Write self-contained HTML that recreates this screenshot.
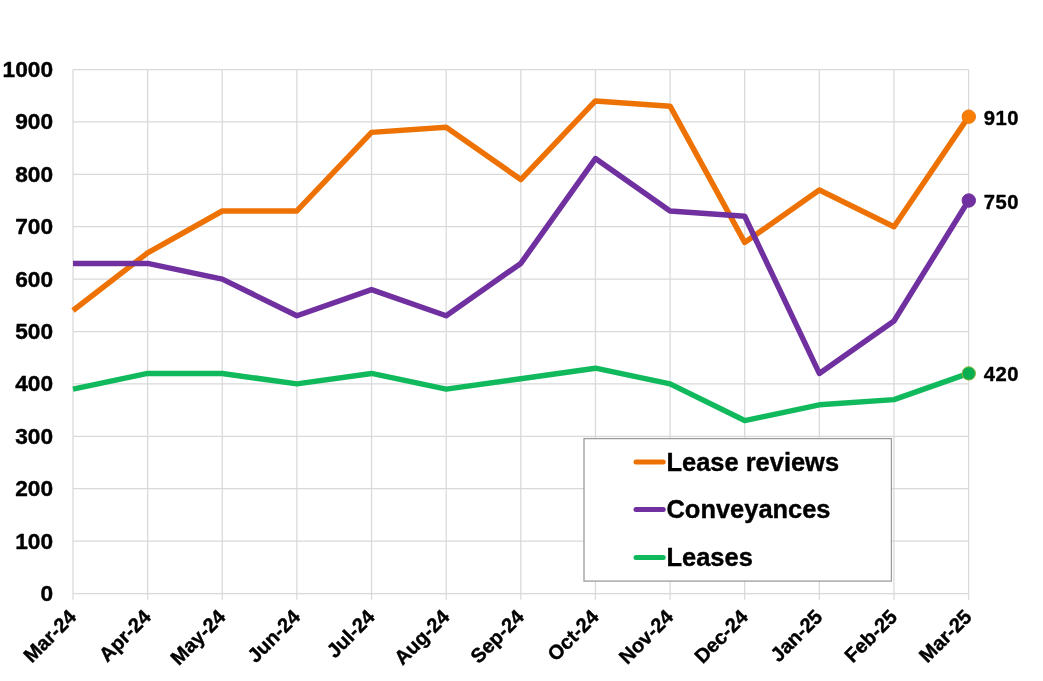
<!DOCTYPE html>
<html lang="en"><head><meta charset="utf-8"><title>Chart</title>
<style>html,body{margin:0;padding:0;background:#fff}svg{display:block}text{font-family:"Liberation Sans",Arial,sans-serif;font-weight:bold;fill:#000;stroke:#000;stroke-width:0.4px;stroke-linejoin:round}</style></head><body>
<svg width="1043" height="681" viewBox="0 0 1043 681">
<rect width="1043" height="681" fill="#fff"/>
<path d="M73.00 69.50H968.60M73.00 121.90H968.60M73.00 174.30H968.60M73.00 226.70H968.60M73.00 279.10H968.60M73.00 331.50H968.60M73.00 383.90H968.60M73.00 436.30H968.60M73.00 488.70H968.60M73.00 541.10H968.60M73.00 593.50H968.60M73.00 69.50V599.70M147.63 69.50V599.70M222.27 69.50V599.70M296.90 69.50V599.70M371.53 69.50V599.70M446.17 69.50V599.70M520.80 69.50V599.70M595.43 69.50V599.70M670.07 69.50V599.70M744.70 69.50V599.70M819.33 69.50V599.70M893.97 69.50V599.70M968.60 69.50V599.70" fill="none" stroke="#D9D9D9" stroke-width="1.25"/>
<text x="53.1" y="77.05" font-size="22.7" text-anchor="end">1000</text>
<text x="53.1" y="129.45" font-size="22.7" text-anchor="end">900</text>
<text x="53.1" y="181.85" font-size="22.7" text-anchor="end">800</text>
<text x="53.1" y="234.25" font-size="22.7" text-anchor="end">700</text>
<text x="53.1" y="286.65" font-size="22.7" text-anchor="end">600</text>
<text x="53.1" y="339.05" font-size="22.7" text-anchor="end">500</text>
<text x="53.1" y="391.45" font-size="22.7" text-anchor="end">400</text>
<text x="53.1" y="443.85" font-size="22.7" text-anchor="end">300</text>
<text x="53.1" y="496.25" font-size="22.7" text-anchor="end">200</text>
<text x="53.1" y="548.65" font-size="22.7" text-anchor="end">100</text>
<text x="53.1" y="601.05" font-size="22.7" text-anchor="end">0</text>
<text transform="translate(77.40 618.10) rotate(-45)" font-size="20.05" text-anchor="end">Mar-24</text>
<text transform="translate(152.03 618.10) rotate(-45)" font-size="20.05" text-anchor="end">Apr-24</text>
<text transform="translate(226.67 618.10) rotate(-45)" font-size="20.05" text-anchor="end">May-24</text>
<text transform="translate(301.30 618.10) rotate(-45)" font-size="20.05" text-anchor="end">Jun-24</text>
<text transform="translate(375.93 618.10) rotate(-45)" font-size="20.05" text-anchor="end">Jul-24</text>
<text transform="translate(450.57 618.10) rotate(-45)" font-size="20.05" text-anchor="end">Aug-24</text>
<text transform="translate(525.20 618.10) rotate(-45)" font-size="20.05" text-anchor="end">Sep-24</text>
<text transform="translate(599.83 618.10) rotate(-45)" font-size="20.05" text-anchor="end">Oct-24</text>
<text transform="translate(674.47 618.10) rotate(-45)" font-size="20.05" text-anchor="end">Nov-24</text>
<text transform="translate(749.10 618.10) rotate(-45)" font-size="20.05" text-anchor="end">Dec-24</text>
<text transform="translate(823.73 618.10) rotate(-45)" font-size="20.05" text-anchor="end">Jan-25</text>
<text transform="translate(898.37 618.10) rotate(-45)" font-size="20.05" text-anchor="end">Feb-25</text>
<text transform="translate(973.00 618.10) rotate(-45)" font-size="20.05" text-anchor="end">Mar-25</text>
<polyline points="73.00,310.54 147.63,252.90 222.27,210.98 296.90,210.98 371.53,132.38 446.17,127.14 520.80,179.54 595.43,100.94 670.07,106.18 744.70,242.42 819.33,190.02 893.97,226.70 968.60,116.66" fill="none" stroke="#EE7203" stroke-width="5.5" stroke-linejoin="round" stroke-linecap="butt"/>
<circle cx="968.80" cy="116.66" r="6.7" fill="#FA7D05" stroke="#F07504" stroke-width="1"/>
<text x="983.8" y="124.66" font-size="20.2" letter-spacing="0.45">910</text>
<polyline points="73.00,263.38 147.63,263.38 222.27,279.10 296.90,315.78 371.53,289.58 446.17,315.78 520.80,263.38 595.43,158.58 670.07,210.98 744.70,216.22 819.33,373.42 893.97,321.02 968.60,200.50" fill="none" stroke="#7030A0" stroke-width="5.5" stroke-linejoin="round" stroke-linecap="butt"/>
<circle cx="968.80" cy="200.50" r="6.7" fill="#7030A0" stroke="#7030A0" stroke-width="1"/>
<text x="983.8" y="208.50" font-size="20.2" letter-spacing="0.45">750</text>
<polyline points="73.00,389.14 147.63,373.42 222.27,373.42 296.90,383.90 371.53,373.42 446.17,389.14 520.80,378.66 595.43,368.18 670.07,383.90 744.70,420.58 819.33,404.86 893.97,399.62 968.60,373.42" fill="none" stroke="#10B95C" stroke-width="5.5" stroke-linejoin="round" stroke-linecap="butt"/>
<circle cx="968.80" cy="373.42" r="6.7" fill="#0AAE50" stroke="#8FB63E" stroke-width="1"/>
<text x="983.8" y="381.42" font-size="20.2" letter-spacing="0.45">420</text>
<rect x="584" y="438.6" width="307.4" height="142.5" fill="#fff" stroke="#9C9C9C" stroke-width="1.3"/>
<line x1="636" y1="462" x2="663.2" y2="462" stroke="#EE7203" stroke-width="5" stroke-linecap="round"/>
<text x="666.5" y="470.60" font-size="25.45">Lease reviews</text>
<line x1="636" y1="509.4" x2="663.2" y2="509.4" stroke="#7030A0" stroke-width="5" stroke-linecap="round"/>
<text x="666.5" y="518.00" font-size="25.45">Conveyances</text>
<line x1="636" y1="557.6" x2="663.2" y2="557.6" stroke="#10B95C" stroke-width="5" stroke-linecap="round"/>
<text x="666.5" y="566.20" font-size="25.45">Leases</text>
</svg></body></html>
